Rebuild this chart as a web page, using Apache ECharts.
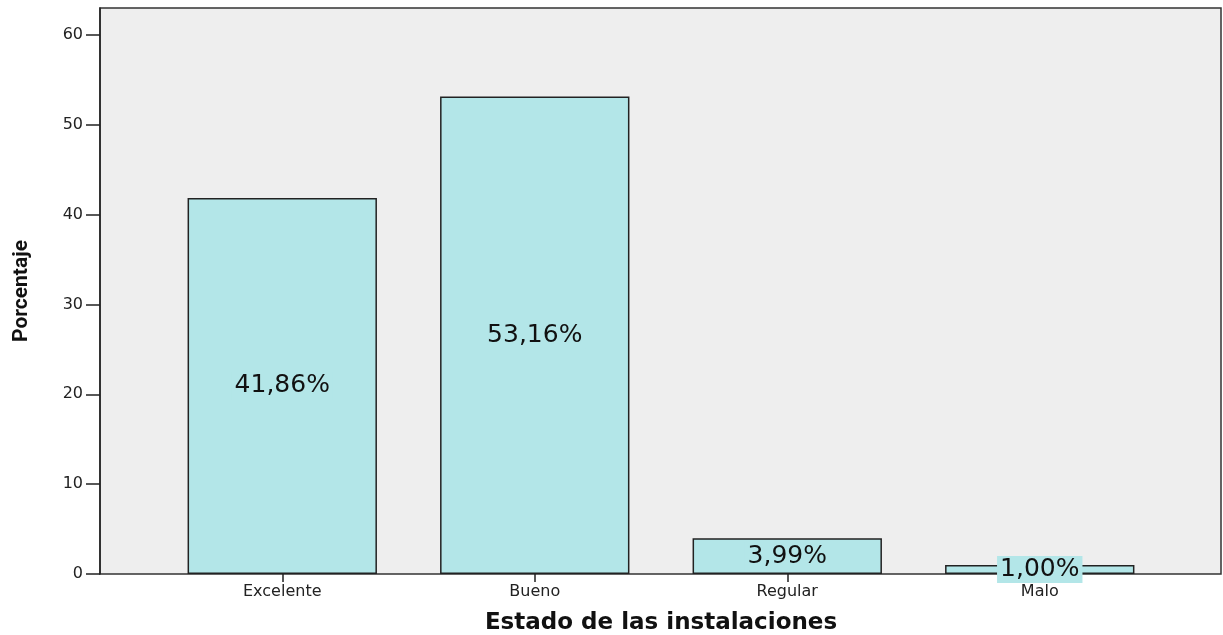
<!DOCTYPE html>
<html>
<head>
<meta charset="utf-8">
<script src="https://cdn.jsdelivr.net/npm/echarts@6/dist/echarts.min.js"></script>
<style>html,body{margin:0;padding:0;background:#fff}#c{width:1223px;height:635px}</style>
</head>
<body>
<div id="c"></div>
<script>
const categories = ['Excelente', 'Bueno', 'Regular', 'Malo'];
const values = [41.86, 53.16, 3.99, 1.00];
const valueLabels = ['41,86%', '53,16%', '3,99%', '1,00%'];
const yTicks = [0, 10, 20, 30, 40, 50, 60];

const chart = echarts.init(document.getElementById('c'), null, {renderer: 'canvas'});
const font = 'DejaVu Sans';
chart.setOption({
  animation: false,
  grid: [
    {left: 100, right: 2, top: 8, bottom: 61, show: true, backgroundColor: '#eeeeee', borderColor: '#333', borderWidth: 1.5, outerBoundsMode: 'none', containLabel: false},
    {left: 156, right: 57, top: 8, bottom: 61, outerBoundsMode: 'none', containLabel: false}
  ],
  xAxis: [
    {gridIndex: 0, type: 'value', min: 0, max: 1, show: false},
    {gridIndex: 1, type: 'category', data: categories,
     axisLine: {show: false},
     axisTick: {show: true, alignWithLabel: true, length: 8, lineStyle: {color: '#222', width: 1.5}},
     axisLabel: {fontFamily: font, fontSize: 16, color: '#222', margin: 10},
     name: 'Estado de las instalaciones', nameLocation: 'middle', nameGap: 38,
     nameTextStyle: {fontFamily: font, fontSize: 23, fontWeight: 'bold', color: '#111'}
    }
  ],
  yAxis: [
    {gridIndex: 0, type: 'value', min: 0, max: 63, interval: 10,
     axisLine: {show: true, lineStyle: {color: '#222', width: 1.5}},
     axisTick: {show: true, length: 14, customValues: yTicks, lineStyle: {color: '#222', width: 1.5}},
     splitLine: {show: false},
     axisLabel: {fontFamily: font, fontSize: 16, color: '#222', margin: 17, customValues: yTicks},
     name: 'Porcentaje', nameLocation: 'middle', nameGap: 68,
     nameTextStyle: {fontFamily: 'Liberation Sans Narrow, Roboto', fontSize: 21, fontWeight: 'bold', color: '#111'}
    },
    {gridIndex: 1, type: 'value', min: 0, max: 63, interval: 10, show: false}
  ],
  series: [{
    type: 'bar', xAxisIndex: 1, yAxisIndex: 1,
    data: values, barWidth: '75%',
    itemStyle: {color: '#b3e6e8', borderColor: '#222', borderWidth: 1.5},
    label: {show: true, position: 'inside', fontFamily: font, fontSize: 25, color: '#111',
      backgroundColor: '#b3e6e8', padding: [1, 3],
      formatter: p => valueLabels[p.dataIndex]}
  }]
});
</script>
</body>
</html>
